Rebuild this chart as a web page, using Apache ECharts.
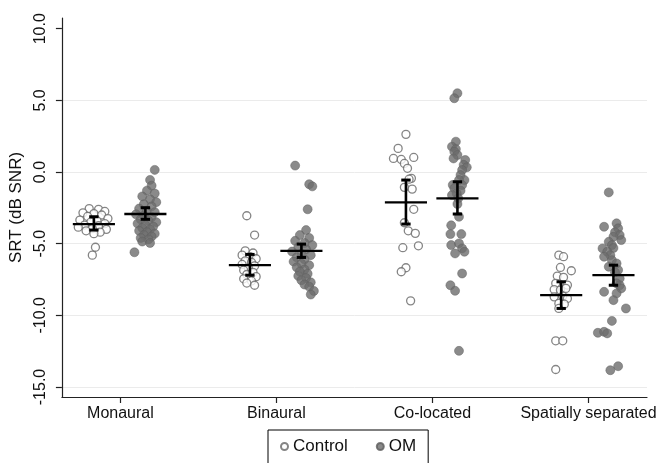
<!DOCTYPE html>
<html>
<head>
<meta charset="utf-8">
<script src="https://cdn.jsdelivr.net/npm/echarts@6/dist/echarts.min.js"></script>
<style>html,body{margin:0;padding:0;background:#fff}#c{width:659px;height:463px}</style>
</head>
<body>
<div id="c"></div>
<script>
// Category labels and their positions on the x scale
var categories = ['Monaural', 'Binaural', 'Co-located', 'Spatially separated'];
var categoryPos = [1, 2, 3, 4];
var yTicks = [-15, -10, -5, 0, 5, 10];

// Individual points: [x position (jittered), SRT dB SNR]
var monauralControl = [[0.80,-2.55],[0.86,-2.6],[0.90,-2.75],[0.76,-2.85],[0.83,-2.9],[0.88,-3.0],[0.79,-3.1],[0.92,-3.25],[0.74,-3.35],[0.85,-3.4],[0.81,-3.5],[0.90,-3.6],[0.77,-3.7],[0.86,-3.75],[0.73,-3.85],[0.82,-3.95],[0.91,-4.0],[0.78,-4.1],[0.87,-4.2],[0.83,-4.3],[0.84,-5.25],[0.82,-5.8]];
var monauralOM = [[1.22,0.15],[1.19,-0.55],[1.20,-0.95],[1.17,-1.3],[1.22,-1.5],[1.14,-1.7],[1.19,-1.9],[1.23,-2.1],[1.15,-2.25],[1.20,-2.4],[1.12,-2.55],[1.17,-2.7],[1.22,-2.8],[1.10,-2.95],[1.15,-3.05],[1.20,-3.15],[1.13,-3.3],[1.18,-3.4],[1.23,-3.5],[1.11,-3.6],[1.16,-3.7],[1.21,-3.8],[1.14,-3.9],[1.19,-4.0],[1.12,-4.1],[1.17,-4.2],[1.22,-4.3],[1.15,-4.4],[1.20,-4.5],[1.13,-4.6],[1.18,-4.7],[1.14,-4.85],[1.19,-4.95],[1.09,-5.6]];
var binauralControl = [[1.81,-3.05],[1.86,-4.4],[1.80,-5.5],[1.85,-5.65],[1.78,-5.8],[1.83,-5.9],[1.87,-6.05],[1.80,-6.2],[1.84,-6.3],[1.78,-6.45],[1.86,-6.55],[1.82,-6.7],[1.79,-6.85],[1.85,-7.0],[1.81,-7.15],[1.87,-7.3],[1.79,-7.45],[1.84,-7.6],[1.81,-7.75],[1.86,-7.9]];
var binauralOM = [[2.12,0.45],[2.21,-0.85],[2.23,-1.0],[2.20,-2.6],[2.19,-4.05],[2.15,-4.4],[2.21,-4.6],[2.12,-4.8],[2.18,-4.95],[2.23,-5.1],[2.14,-5.25],[2.19,-5.4],[2.10,-5.55],[2.16,-5.7],[2.22,-5.8],[2.13,-5.95],[2.18,-6.1],[2.11,-6.25],[2.16,-6.4],[2.21,-6.5],[2.13,-6.65],[2.18,-6.8],[2.15,-6.95],[2.20,-7.1],[2.14,-7.25],[2.19,-7.4],[2.16,-7.55],[2.22,-7.7],[2.18,-7.85],[2.21,-8.0],[2.24,-8.3],[2.22,-8.55]];
var colocatedControl = [[2.83,2.63],[2.78,1.65],[2.75,0.95],[2.80,0.88],[2.88,1.02],[2.82,0.6],[2.84,0.26],[2.865,-0.44],[2.85,-0.5],[2.82,-1.07],[2.87,-1.19],[2.88,-2.6],[2.82,-3.54],[2.845,-4.1],[2.89,-4.28],[2.81,-5.28],[2.91,-5.15],[2.83,-6.68],[2.80,-6.96],[2.86,-8.99]];
var colocatedOM = [[3.16,5.5],[3.14,5.15],[3.15,2.12],[3.125,1.77],[3.15,1.6],[3.14,1.42],[3.16,1.19],[3.135,0.95],[3.21,0.84],[3.20,0.5],[3.22,0.33],[3.19,0.14],[3.18,-0.21],[3.205,-0.56],[3.17,-0.56],[3.19,-0.91],[3.13,-0.9],[3.14,-1.14],[3.18,-1.3],[3.155,-1.49],[3.125,-1.61],[3.165,-1.84],[3.16,-2.23],[3.17,-3.12],[3.12,-3.72],[3.115,-4.33],[3.185,-4.33],[3.12,-5.1],[3.17,-4.98],[3.19,-5.33],[3.145,-5.68],[3.205,-5.56],[3.19,-7.08],[3.115,-7.9],[3.145,-8.29],[3.17,-12.48]];
var spatialControl = [[3.81,-5.8],[3.84,-5.91],[3.82,-6.66],[3.89,-6.89],[3.80,-7.26],[3.84,-7.35],[3.79,-7.77],[3.865,-7.89],[3.78,-8.2],[3.82,-8.24],[3.855,-8.12],[3.78,-8.71],[3.835,-8.66],[3.865,-8.82],[3.81,-9.17],[3.845,-9.22],[3.81,-9.52],[3.79,-11.78],[3.835,-11.78],[3.79,-13.78]];
var spatialOM = [[4.13,-1.42],[4.10,-3.82],[4.18,-3.58],[4.19,-3.93],[4.17,-4.2],[4.20,-4.4],[4.21,-4.75],[4.16,-4.52],[4.13,-4.87],[4.15,-5.1],[4.16,-5.3],[4.09,-5.33],[4.12,-5.56],[4.14,-5.8],[4.10,-5.91],[4.15,-6.15],[4.18,-6.38],[4.13,-6.61],[4.19,-6.84],[4.17,-7.0],[4.20,-7.43],[4.18,-7.77],[4.20,-7.9],[4.21,-8.12],[4.10,-8.36],[4.18,-8.47],[4.16,-8.94],[4.24,-9.52],[4.15,-10.39],[4.06,-11.22],[4.10,-11.15],[4.12,-11.26],[4.14,-13.83],[4.19,-13.55]];

// Group summaries: [x centre, mean, lower CI, upper CI]
var controlStats = [[0.83,-3.63,-4.05,-3.12],[1.83,-6.5,-7.2,-5.75],[2.83,-2.12,-3.63,-0.56],[3.825,-8.59,-9.52,-7.66]];
var omStats = [[1.16,-2.93,-3.3,-2.49],[2.16,-5.5,-5.96,-5.03],[3.16,-1.84,-2.93,-0.68],[4.16,-7.19,-7.9,-6.5]];

var controlPoints = monauralControl.concat(binauralControl, colocatedControl, spatialControl);
var omPoints = monauralOM.concat(binauralOM, colocatedOM, spatialOM);

var FONT = 'Liberation Sans, Arial, sans-serif';

function renderStat(params, api) {
  var x = api.value(0), m = api.value(1), lo = api.value(2), hi = api.value(3);
  var halfMean = 0.135, halfCap = 0.03;
  var a = api.coord([x - halfMean, m]), b = api.coord([x + halfMean, m]);
  var pl = api.coord([x, lo]), ph = api.coord([x, hi]);
  var c1 = api.coord([x - halfCap, lo]), c2 = api.coord([x + halfCap, lo]);
  var c3 = api.coord([x - halfCap, hi]), c4 = api.coord([x + halfCap, hi]);
  return {
    type: 'group',
    children: [
      {type: 'line', shape: {x1: a[0], y1: a[1], x2: b[0], y2: b[1]}, style: {stroke: '#000', lineWidth: 2.3}},
      {type: 'line', shape: {x1: pl[0], y1: pl[1], x2: ph[0], y2: ph[1]}, style: {stroke: '#000', lineWidth: 2.6}},
      {type: 'line', shape: {x1: c1[0], y1: c1[1], x2: c2[0], y2: c2[1]}, style: {stroke: '#000', lineWidth: 3}},
      {type: 'line', shape: {x1: c3[0], y1: c3[1], x2: c4[0], y2: c4[1]}, style: {stroke: '#000', lineWidth: 3}}
    ]
  };
}

var chart = echarts.init(document.getElementById('c'), null, {renderer: 'canvas'});
chart.setOption({
  animation: false,
  backgroundColor: '#fff',
  grid: {left: 56, right: 12, top: 18, bottom: 66, containLabel: false},
  xAxis: {
    type: 'value', min: 0.625, max: 4.375,
    axisLine: {show: true, onZero: false, lineStyle: {color: '#222', width: 1.2}},
    axisTick: {show: true, length: 6, customValues: categoryPos, lineStyle: {color: '#222', width: 1.2}},
    axisLabel: {customValues: categoryPos, margin: 9, fontSize: 16, color: '#111', fontFamily: FONT,
      formatter: function (v) { return categories[categoryPos.indexOf(v)] || ''; }},
    splitLine: {show: false}
  },
  yAxis: {
    type: 'value', min: -15.7, max: 10.75,
    name: 'SRT (dB SNR)', nameLocation: 'middle', nameGap: 31,
    nameTextStyle: {fontSize: 17, color: '#111', fontFamily: FONT},
    axisLine: {show: true, onZero: false, lineStyle: {color: '#222', width: 1.2}},
    axisTick: {show: true, length: 6, customValues: yTicks, lineStyle: {color: '#222', width: 1.2}},
    axisLabel: {customValues: yTicks, rotate: 90, margin: 13, fontSize: 16, color: '#111', fontFamily: FONT,
      formatter: function (v) { return v.toFixed(1); }},
    splitLine: {show: true, lineStyle: {color: ['#ebebeb', '#ebebeb', '#ebebeb', '#ebebeb', '#ebebeb', 'rgba(0,0,0,0)'], width: 1}}
  },
  legend: {
    data: ['Control', 'OM'],
    left: 268, top: 430,
    orient: 'horizontal',
    itemWidth: 7, itemHeight: 7, itemGap: 28,
    padding: [8, 12, 30, 12],
    borderColor: '#000', borderWidth: 1, borderRadius: 0,
    textStyle: {fontSize: 17, color: '#111', fontFamily: FONT}
  },
  series: [
    {name: 'Control', type: 'scatter', data: controlPoints, symbol: 'circle', symbolSize: 8,
      itemStyle: {color: '#fff', borderColor: '#666', borderWidth: 1.3}, z: 2},
    {name: 'OM', type: 'scatter', data: omPoints, symbol: 'circle', symbolSize: 9,
      itemStyle: {color: '#6d6d6d', borderColor: '#5e5e5e', borderWidth: 0.6}, z: 2},
    {name: 'ControlStats', type: 'custom', data: controlStats, renderItem: renderStat, z: 5, silent: true},
    {name: 'OMStats', type: 'custom', data: omStats, renderItem: renderStat, z: 5, silent: true}
  ]
});
</script>
</body>
</html>
